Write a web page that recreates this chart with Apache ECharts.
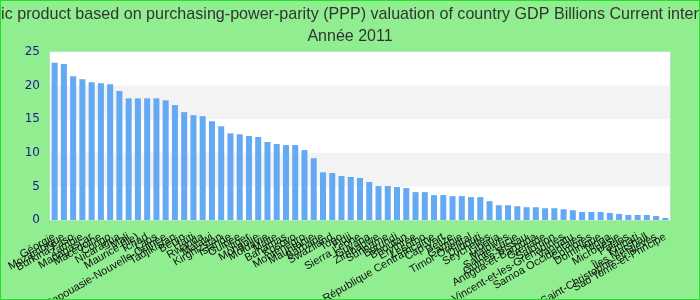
<!DOCTYPE html>
<html>
<head>
<meta charset="utf-8">
<script src="https://cdn.jsdelivr.net/npm/echarts@6/dist/echarts.min.js"></script>
<style>
html,body{margin:0;padding:0;background:#90ee90;}
#w{position:relative;width:700px;height:300px;}
#c{position:absolute;left:0;top:0;width:700px;height:300px;}
#b{position:absolute;left:0;top:0;width:700px;height:300px;box-sizing:border-box;border:1px solid #22e022;pointer-events:none;}
</style>
</head>
<body>
<div id="w"><div id="c"></div><div id="b"></div></div>
<script>
const titleText = "Gross domestic product based on purchasing-power-parity (PPP) valuation of country GDP Billions Current international dollar";
const subtitleText = "Année 2011";
const categories = [
  "Géorgie","Mozambique","Burkina Faso","Zambie","Madagascar","Macédoine","Congo","Nicaragua","Mali","Maurice (Île)",
  "Tchad","Laos","Papouasie-Nouvelle-Guinée","Tadjikistan","Bénin","Haïti","Rwanda","Malawi","Kirghizstan","Islande",
  "Guinée","Niger","Mongolie","Moldavie","Malte","Bahamas","Kosovo","Monténégro","Mauritanie","Barbade",
  "Swaziland","Togo","Fidji","Sierra Leone","Guyana","Zimbabwe","Suriname","Burundi","Bhoutan","Érythrée",
  "Lesotho","République Centrafricaine","Cap-Vert","Belize","Gambie","Timor-Oriental","Djibouti","Seychelles","Libéria","Maldives",
  "Sainte-Lucie","Guinée-Bissau","Antigua-et-Barbuda","Grenade","Salomon","Saint-Vincent-et-les-Grenadines","Vanuatu","Samoa Occidentales","Comores","Dominique",
  "Tonga","Micronésie","Palaos","Kiribati","Îles Marshall","Saint-Christophe-et-Niévès","Sao Tomé-et-Principe"
];
const gdpValues = [
  23.4,23.2,21.4,20.95,20.5,20.35,20.2,19.2,18.1,18.1,
  18.1,18.1,17.8,17.1,16.05,15.6,15.45,14.7,13.95,12.9,
  12.75,12.5,12.35,11.6,11.3,11.15,11.15,10.4,9.2,7.1,
  7.0,6.55,6.4,6.25,5.65,5.05,5.05,4.9,4.75,4.15,
  4.15,3.7,3.7,3.55,3.55,3.4,3.4,2.8,2.2,2.2,
  2.05,1.9,1.9,1.75,1.75,1.6,1.45,1.2,1.2,1.2,
  1.05,0.9,0.75,0.75,0.75,0.6,0.3
];
const yTicks = [0,5,10,15,20,25];

const chart = echarts.init(document.getElementById('c'), null, {renderer:'canvas'});
chart.setOption({
  backgroundColor: '#90ee90',
  animation: false,
  title: {
    text: titleText,
    subtext: subtitleText,
    left: 'center',
    top: 2,
    itemGap: 6,
    textStyle: {fontFamily:'Liberation Sans', fontSize:16.1, fontWeight:'normal', color:'#333'},
    subtextStyle: {fontFamily:'Liberation Sans', fontSize:16, color:'#333'}
  },
  grid: {
    left: 50, right: 30, top: 52, bottom: 80,
    outerBoundsMode: 'none',
    containLabel: false,
    show: true, backgroundColor: '#fff', borderColor: '#ddd', borderWidth: 1
  },
  xAxis: {
    type: 'category',
    data: categories,
    axisLine: {show:false},
    axisTick: {show:false},
    axisLabel: {interval:0, rotate:30, fontFamily:'Liberation Sans', fontSize:11, color:'#111', margin:16}
  },
  yAxis: {
    type: 'value',
    min: yTicks[0], max: yTicks[yTicks.length-1], interval: 5,
    axisLine: {show:false},
    axisTick: {show:false},
    splitLine: {show:false},
    splitArea: {show:true, areaStyle:{color:['#ffffff','#f3f3f3']}},
    axisLabel: {fontFamily:'DejaVu Sans', fontSize:12, color:'#1a1a8a', margin:10}
  },
  series: [{
    type: 'bar',
    data: gdpValues,
    barWidth: '65%',
    itemStyle: {color:'#63a9f3'}
  }]
});
</script>
</body>
</html>
